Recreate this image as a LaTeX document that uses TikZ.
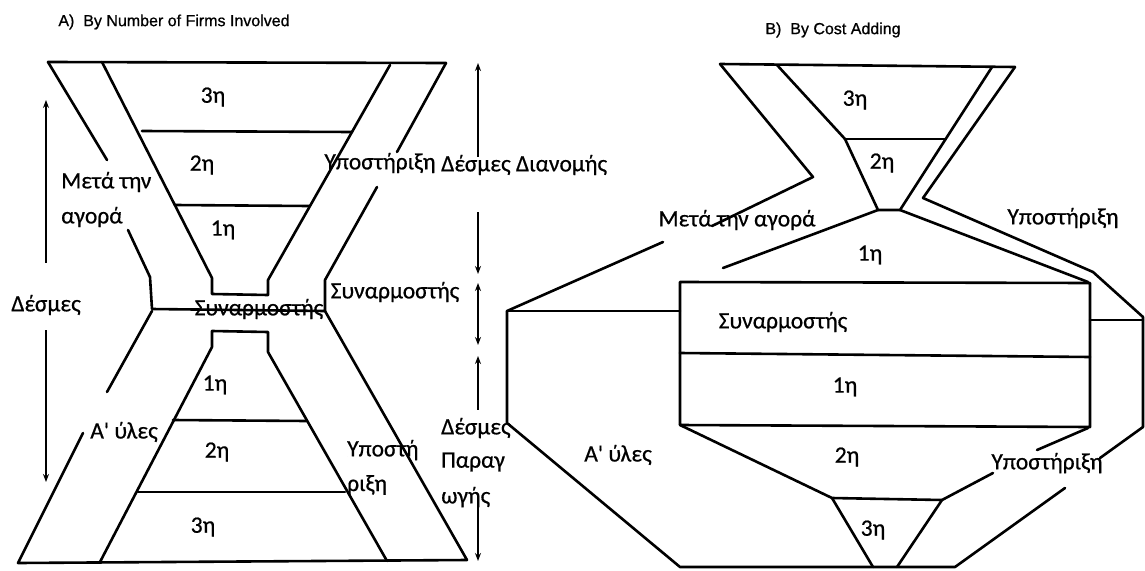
\documentclass[tikz,border=0pt]{standalone}
\usepackage{fontspec}
\setmainfont{Carlito}[Ligatures=TeXOff, FakeBold=0.6]
\newfontfamily\titlefont{Liberation Sans}[FakeBold=0.8]
\usetikzlibrary{arrows.meta}
\tikzset{
  ln/.style={line width=2.6pt, line cap=round, line join=round},
  dimline/.style={line width=1.3pt},
  lbl/.style={font=\fontsize{23.5}{27}\selectfont, inner sep=0pt},
  ttl/.style={font=\titlefont\fontsize{16}{19}\selectfont, inner sep=0pt},
  tip/.tip={Stealth[length=8pt,width=6pt]},
}
\begin{document}
\begin{tikzpicture}[x=1pt,y=-1pt]
\useasboundingbox (0,0) rectangle (1145,570);

% ---------- titles ----------
\node[ttl] (tA) at (174,22) {A)\ \ By Number of Firms Involved};
\node[ttl] (tB) at (833,30) {B)\ \ By Cost Adding};

% ---------- diagram A : upper funnel ----------
\draw[ln] (48,62) -- (446,63);
\draw[ln] (48,62) -- (107,160);
\draw[ln] (128,230) -- (150,277) -- (152,309) -- (325,311) -- (325,280) -- (377,187);
\draw[ln] (397,152) -- (446,63);
\draw[ln] (102,62) -- (212,278) -- (212,294) -- (268,295) -- (268,280) -- (390,65);
\draw[ln] (142,131) -- (352,132);
\draw[ln] (175,205) -- (309,206);

% ---------- diagram A : lower pyramid ----------
\draw[ln] (152,311) -- (107,392);
\draw[ln] (83,433) -- (18,563) -- (467,560) -- (325,311);
\draw[ln] (100,562) -- (212,347) -- (212,331) -- (268,332) -- (268,352) -- (387,561);
\draw[ln] (173,420) -- (307,421);
\draw[ln] (138,492) -- (345,492);

% ---------- diagram A : labels ----------
\node[lbl] (a3) at (213,97) {3η};
\node[lbl] (a2) at (202,165) {2η};
\node[lbl] (a1) at (223,230) {1η};
\node[lbl,anchor=west] (meta1) at (61,182) {Μετά την};
\node[lbl,anchor=west] (meta2) at (61,217) {αγορά};
\node[lbl] (ypo1) at (380,163) {Υποστήριξη};
\node[lbl,anchor=west] (dd) at (441,165) {Δέσμες Διανομής};
\node[lbl] (desm) at (46,305) {Δέσμες};
\node[lbl] (syn1) at (259,309) {Συναρμοστής};
\node[lbl] (syn2) at (395,292) {Συναρμοστής};
\node[lbl] (b1) at (215,385) {1η};
\node[lbl] (b2) at (217,452) {2η};
\node[lbl] (b3) at (203,527) {3η};
\node[lbl] (yles1) at (124,432) {A' ύλες};
\node[lbl,anchor=west] (ypo2a) at (347,450) {Υποστή};
\node[lbl,anchor=west] (ypo2b) at (347,485) {ριξη};
\node[lbl,anchor=west] (dp1) at (441,428) {Δέσμες};
\node[lbl,anchor=west] (dp2) at (441,462) {Παραγ};
\node[lbl,anchor=west] (dp3) at (441,497) {ωγής};

% ---------- dimension arrows ----------
\coordinate (l1) at (46,100); \coordinate (l2) at (46,263);
\coordinate (l3) at (46,330); \coordinate (l4) at (46,482);
\draw[dimline,tip-] (l1) -- (l2);
\draw[dimline,-tip] (l3) -- (l4);
\coordinate (r1) at (478,63);  \coordinate (r2) at (478,157);
\coordinate (r3) at (478,212); \coordinate (r4) at (478,274);
\coordinate (r5) at (478,283); \coordinate (r6) at (478,345);
\coordinate (r7) at (478,356); \coordinate (r8) at (478,410);
\coordinate (r9) at (478,500); \coordinate (r10) at (478,561);
\draw[dimline,tip-] (r1) -- (r2);
\draw[dimline,-tip] (r3) -- (r4);
\draw[dimline,tip-tip] (r5) -- (r6);
\draw[dimline,tip-] (r7) -- (r8);
\draw[dimline,-tip] (r9) -- (r10);

% ---------- diagram B : upper funnel ----------
\draw[ln] (720,64) -- (1015,67);
\draw[ln] (720,64) -- (813,177) -- (712,226);
\draw[ln] (777,65) -- (845,139) -- (878,210) -- (900,210) -- (992,67);
\draw[ln] (845,139) -- (945,139);
\draw[ln] (1015,67) -- (923,198) -- (1093,272) -- (1143,317) -- (1143,427) -- (1100,458);
\draw[ln] (878,210) -- (723,268);
\draw[ln] (900,210) -- (1088,282);

% ---------- diagram B : box and lower part ----------
\draw[ln] (663,242) -- (507,311) -- (507,423) -- (680,567) -- (955,567) -- (1065,488);
\draw[ln] (507,311) -- (680,311);
\draw[ln] (680,282) -- (1090,283) -- (1090,427) -- (680,425) -- cycle;
\draw[ln] (680,353) -- (1090,357);
\draw[ln] (1090,320) -- (1143,320);
\draw[ln] (680,425) -- (832,498) -- (942,500);
\draw[ln] (832,498) -- (873,567);
\draw[ln] (942,500) -- (897,567);
\draw[ln] (942,500) -- (993,473);
\draw[ln] (1037,450) -- (1088,428);

% ---------- diagram B : labels ----------
\node[lbl] (c3) at (855,100) {3η};
\node[lbl] (c2) at (882,163) {2η};
\node[lbl] (c1) at (870,255) {1η};
\node[lbl] (cmeta) at (737,220) {Μετά την αγορά};
\node[lbl] (cypo) at (1063,218) {Υποστήριξη};
\node[lbl] (csyn) at (783,322) {Συναρμοστής};
\node[lbl] (d1) at (845,387) {1η};
\node[lbl] (d2) at (847,457) {2η};
\node[lbl] (d3) at (873,530) {3η};
\node[lbl] (dyles) at (618,455) {A' ύλες};
\node[lbl] (dypo) at (1047,463) {Υποστήριξη};
\end{tikzpicture}
\end{document}
